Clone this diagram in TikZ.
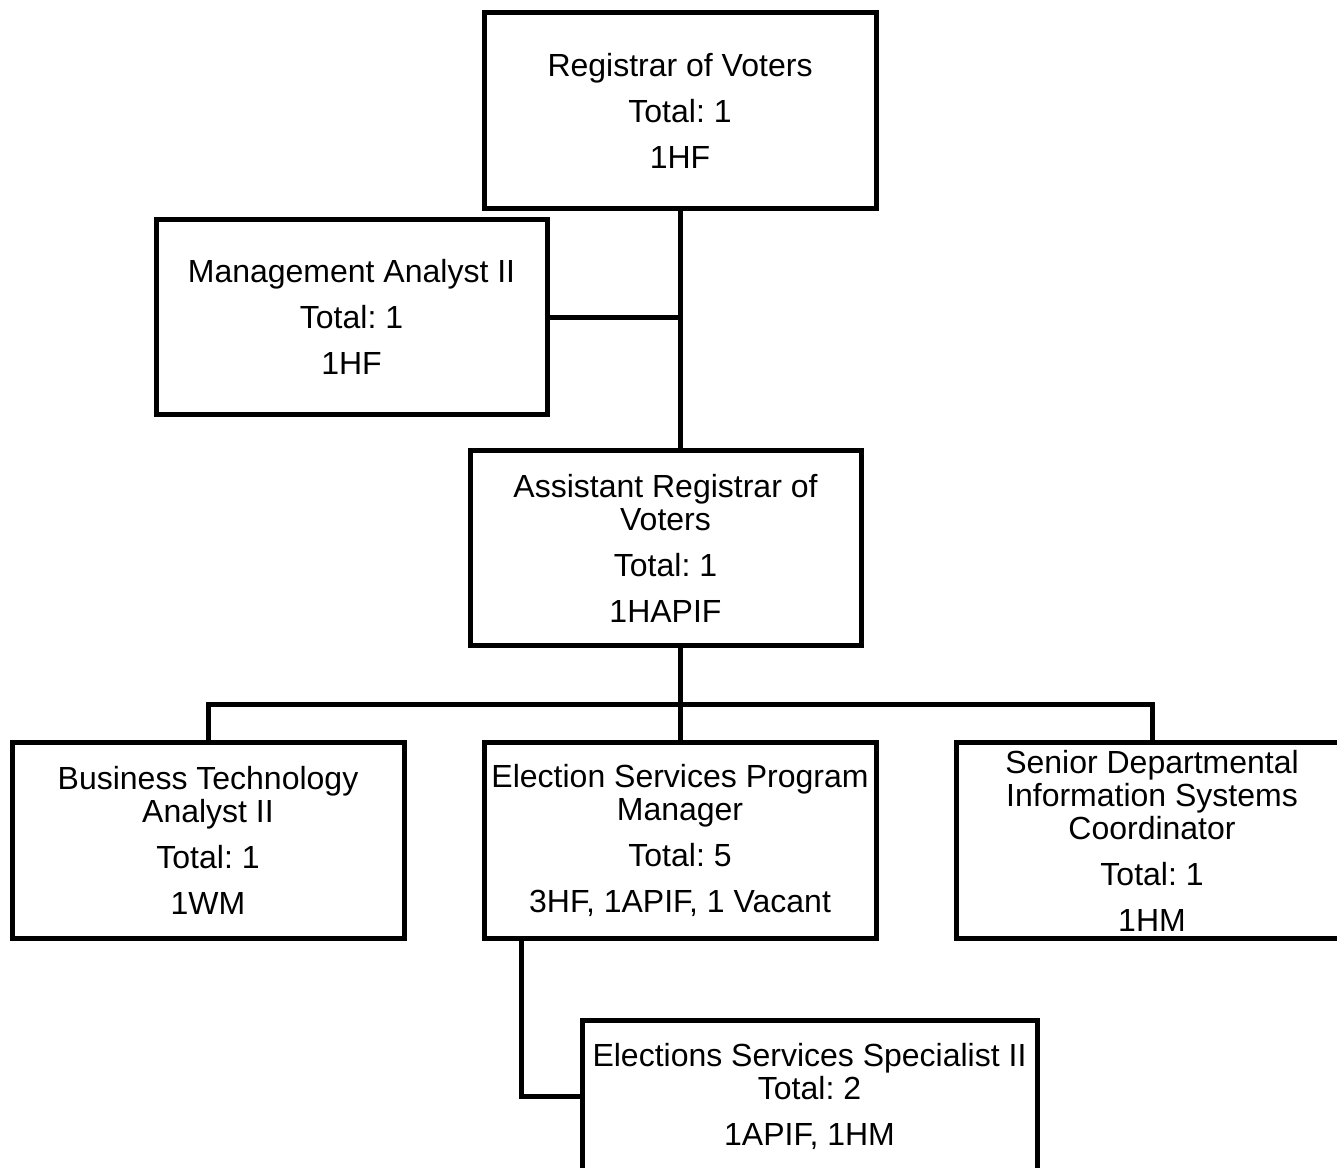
\documentclass[tikz,border=0pt]{standalone}
\usepackage{fontspec}
\setmainfont{Liberation Sans}
\usetikzlibrary{calc}
\begin{document}
\frenchspacing
\begin{tikzpicture}[x=0.5pt,y=-0.5pt,
  box/.style={draw=black,line width=2.5pt,rectangle,inner sep=0pt,align=center,
    minimum width=196pt,minimum height=98pt,
    font=\fontsize{16}{16.5}\selectfont},
  conn/.style={draw=black,line width=2.5pt}]
\useasboundingbox (0,0) rectangle (1337,1167);
\clip (0,0) rectangle (1337,1167);
\fill[white] (0,0) rectangle (1337,1167);
\node[box] (reg) at (680,110.5) {Registrar of Voters\\[6.5pt]Total: 1\\[6.5pt]1HF};
\node[box,minimum width=195.5pt,minimum height=97.5pt] (mgmt) at (351.5,317) {Management Analyst II\\[6.5pt]Total: 1\\[6.5pt]1HF};
\node[box,minimum width=195.5pt,minimum height=97.5pt] (asst) at (665.5,548) {Assistant Registrar of\\Voters\\[6.5pt]Total: 1\\[6.5pt]1HAPIF};
\node[box] (bta) at (208,840.5) {Business Technology\\Analyst II\\[6.5pt]Total: 1\\[6.5pt]1WM};
\node[box] (espm) at (680,840.5) {Election Services Program\\Manager\\[6.5pt]Total: 5\\[6.5pt]3HF, 1APIF, 1 Vacant};
\node[box] (sdisc) at (1152,840.5) {Senior Departmental\\Information Systems\\Coordinator\\[6.5pt]Total: 1\\[6.5pt]1HM};
\node[box,minimum width=227.5pt,minimum height=76pt] (ess) at (809.5,1096) {Elections Services Specialist II\\Total: 2\\[6.5pt]1APIF, 1HM};
\coordinate (bus) at (680,704);
\coordinate (espmdrop) at ($(espm.south west)+(40,0)$);
\draw[conn] (reg.south) -- (reg.south |- asst.north);
\draw[conn] (mgmt.east) -- (mgmt.east -| reg.south);
\draw[conn] (espm.north |- asst.south) -- (espm.north);
\draw[conn] (bta.north) -- (bta.north |- bus) -- (sdisc.north |- bus) -- (sdisc.north);
\draw[conn] (espmdrop) |- (ess.west);
\end{tikzpicture}
\end{document}
